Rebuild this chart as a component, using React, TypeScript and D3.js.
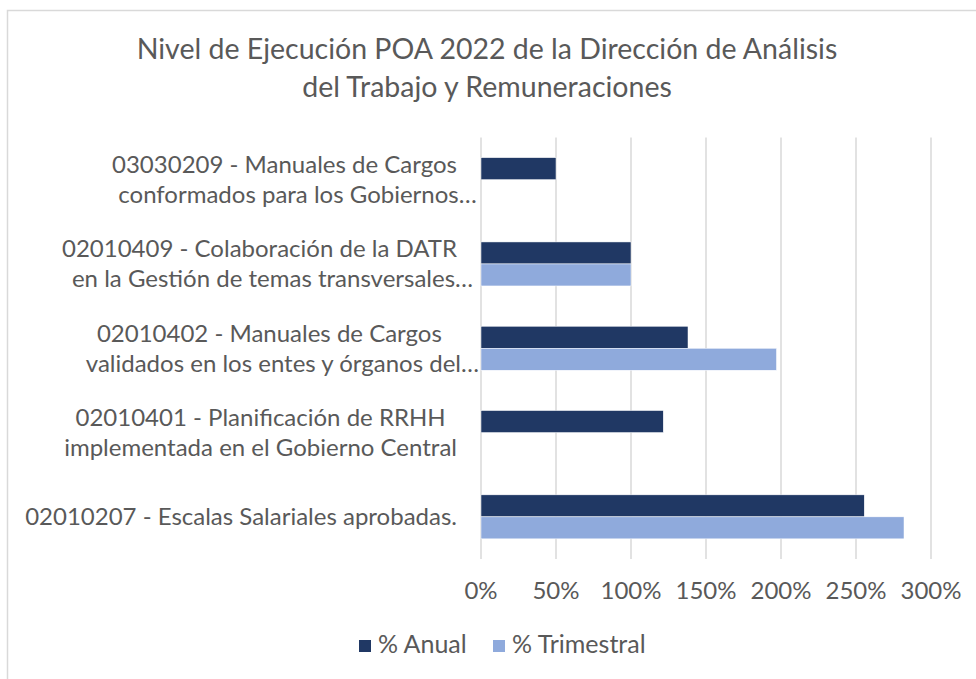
import React, { useEffect, useRef } from 'react';
import * as d3 from 'd3';

const categories = ['03030209', '02010409', '02010402', '02010401', '02010207'];
const categoryLines = [
  ['03030209 - Manuales de Cargos', 'conformados para los Gobiernos…'],
  ['02010409 -  Colaboración de la DATR', 'en la Gestión de temas transversales…'],
  ['02010402 - Manuales de Cargos', 'validados en los entes y órganos del…'],
  ['02010401 - Planificación de RRHH', 'implementada en el Gobierno Central'],
  ['02010207 - Escalas Salariales aprobadas.'],
];
const seriesNames = ['% Anual', '% Trimestral'];
const anual = [0.5, 1.0, 1.38, 1.215, 2.555];
const trimestral = [null, 1.0, 1.97, null, 2.82];
const ticks = [0, 0.5, 1, 1.5, 2, 2.5, 3];
const titleLines = ['Nivel de Ejecución POA 2022 de la Dirección de Análisis', 'del Trabajo y Remuneraciones'];

const colors = ['#203864', '#8FAADC'];
const textColor = '#595959';
const fontFamily = 'Lato, "Open Sans", sans-serif';

const App: React.FC = () => {
  const svgRef = useRef<SVGSVGElement>(null);

  useEffect(() => {
    const svg = d3.select(svgRef.current);
    svg.selectAll('*').remove();
    const width = 976;
    const height = 679;

    svg.append('rect')
      .attr('x', 7.5).attr('y', 10.5)
      .attr('width', width + 40).attr('height', height + 40)
      .attr('fill', '#fff').attr('stroke', '#D9D9D9').attr('stroke-width', 1.5);

    // title
    svg.append('g').selectAll('text')
      .data(titleLines)
      .join('text')
      .attr('x', 487)
      .attr('y', (d, i) => 59 + i * 38)
      .attr('text-anchor', 'middle')
      .attr('fill', textColor)
      .attr('font-family', fontFamily)
      .attr('font-size', 28.5)
      .text(d => d);

    const x = d3.scaleLinear().domain([0, 3]).range([481, 931]);
    const y = d3.scaleBand<string>().domain(categories).range([137.5, 559]).paddingInner(0.478).paddingOuter(0.239);
    const ySub = d3.scaleBand<string>().domain(seriesNames).range([0, y.bandwidth()]);

    // gridlines
    svg.append('g').selectAll('line')
      .data(ticks)
      .join('line')
      .attr('x1', d => x(d)).attr('x2', d => x(d))
      .attr('y1', 137.5).attr('y2', 559)
      .attr('stroke', '#D9D9D9').attr('stroke-width', 1.5);

    // bars
    const series = [anual, trimestral];
    series.forEach((vals, s) => {
      svg.append('g').selectAll('rect')
        .data(vals.map((v, i) => ({ v, c: categories[i] })).filter(d => d.v != null))
        .join('rect')
        .attr('x', x(0))
        .attr('y', d => (y(d.c) as number) + (ySub(seriesNames[s]) as number))
        .attr('width', d => x(d.v as number) - x(0))
        .attr('height', ySub.bandwidth())
        .attr('fill', colors[s])
        .attr('stroke', '#fff').attr('stroke-width', 0.5);
    });

    // tick labels
    svg.append('g').selectAll('text')
      .data(ticks)
      .join('text')
      .attr('x', d => x(d))
      .attr('y', 599)
      .attr('text-anchor', 'middle')
      .attr('fill', textColor)
      .attr('font-family', fontFamily)
      .attr('font-size', 24)
      .text(d => d3.format('.0%')(d));

    // category labels, lines centered in a right-aligned block
    const labelG = svg.append('g')
      .attr('fill', textColor)
      .attr('font-family', fontFamily)
      .attr('font-size', 24)
      .style('white-space', 'pre');
    categoryLines.forEach((lines, i) => {
      const c = (y(categories[i]) as number) + y.bandwidth() / 2;
      const nodes = lines.map((line, j) => labelG.append('text')
        .attr('y', c + 8.5 + (j - (lines.length - 1) / 2) * 30)
        .text(line.replace('…', '')));
      const widths = nodes.map(n => (n.node() as SVGTextElement).getComputedTextLength());
      const center = 457 - d3.max(widths)! / 2;
      nodes.forEach((n, j) => {
        if (lines[j].endsWith('…')) {
          n.text(lines[j]).attr('x', center - widths[j] / 2 + 4);
        } else {
          n.attr('x', center).attr('text-anchor', 'middle');
        }
      });
    });

    // legend
    const legendX = [359, 493];
    seriesNames.forEach((name, s) => {
      svg.append('rect')
        .attr('x', legendX[s]).attr('y', 640)
        .attr('width', 12).attr('height', 12)
        .attr('fill', colors[s]);
      svg.append('text')
        .attr('x', legendX[s] + 19).attr('y', 653)
        .attr('fill', textColor)
        .attr('font-family', fontFamily)
        .attr('font-size', 25)
        .text(name);
    });
  }, []);

  return (
    <svg ref={svgRef} width="976" height="679" style={{ position: 'absolute', left: 0, top: 0 }}></svg>
  );
};

export default App;
